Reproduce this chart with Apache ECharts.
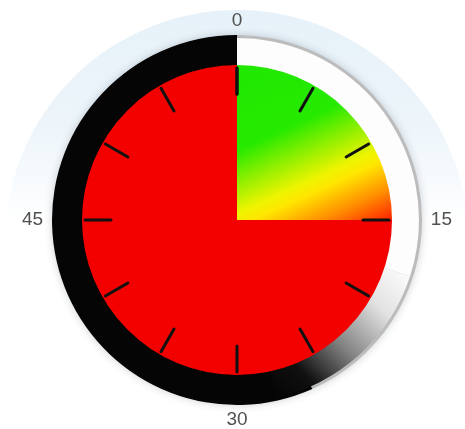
<!DOCTYPE html>
<html>
<head>
<meta charset="utf-8">
<style>
  html, body { margin: 0; padding: 0; background: #ffffff; }
  #chart { width: 465px; height: 429px; }
</style>
<script src="https://cdn.jsdelivr.net/npm/echarts@6/dist/echarts.min.js"></script>
</head>
<body>
<div id="chart"></div>
<script>
// Dial scale: a 60-minute clock face
const dialMin = 0;
const dialMax = 60;
const tickStep = 5;
const tickLabels = [0, 15, 30, 45];

// Face sectors, in minutes clockwise from the top
const faceNames = ['elapsed', 'remaining'];
const faceValues = [15, 45];

// Bezel sectors, in minutes clockwise from the top
const bezelNames = ['lit', 'fade', 'dark'];
const bezelValues = [18, 10, 32];

// Rim behind the bezel: grey edge, then black
const rimValues = [26, 34];

const cx = 237, cy = 220;

const chart = echarts.init(document.getElementById('chart'), null, { renderer: 'canvas' });

const elapsedFill = {
  type: 'linear', global: true,
  x: 178.6, y: 91.5, x2: 263.5, y2: 278.4,
  colorStops: [
    { offset: 0, color: '#20e800' },
    { offset: 0.38, color: '#26ea00' },
    { offset: 0.52, color: '#8cef00' },
    { offset: 0.66, color: '#eef400' },
    { offset: 0.72, color: '#ffe600' },
    { offset: 0.86, color: '#ff8c00' },
    { offset: 1, color: '#ff2000' }
  ]
};

const fadeFill = {
  type: 'linear', global: true,
  x: 405, y: 268, x2: 275, y2: 396,
  colorStops: [
    { offset: 0, color: '#fdfdfd' },
    { offset: 0.25, color: '#e2e2e2' },
    { offset: 0.55, color: '#808080' },
    { offset: 0.8, color: '#101010' },
    { offset: 1, color: '#050505' }
  ]
};

const faceColors = [elapsedFill, '#f30000'];
const bezelColors = ['#fdfdfd', fadeFill, '#050505'];
const rimColors = ['#bcbcbc', '#050505'];

function pieBase(z, radius) {
  return {
    type: 'pie',
    center: [cx, cy],
    radius: radius,
    startAngle: 90,
    clockwise: true,
    silent: true,
    z: z,
    label: { show: false },
    labelLine: { show: false },
    emphasis: { disabled: true },
    avoidLabelOverlap: false,
    animation: false
  };
}

const labelFont = '"Liberation Sans", Arial, sans-serif';

// A dial layer: same scale, optional ticks, labels for the chosen minutes
function dialLayer(z, showTicks, labelled, labelDistance) {
  return {
    type: 'gauge',
    z: z,
    silent: true,
    center: [cx, cy],
    radius: 152,
    startAngle: 90,
    endAngle: -270,
    clockwise: true,
    min: dialMin,
    max: dialMax,
    splitNumber: (dialMax - dialMin) / tickStep,
    axisLine: { show: false, lineStyle: { width: 0 } },
    axisTick: { show: false },
    splitLine: {
      show: showTicks,
      length: 26,
      distance: 0,
      lineStyle: { color: '#111111', width: 3, cap: 'round' }
    },
    axisLabel: {
      show: true,
      distance: labelDistance,
      color: '#505050',
      fontSize: 19,
      fontFamily: labelFont,
      formatter: function (v) {
        return labelled.indexOf(v) >= 0 ? String(v) : '';
      }
    },
    pointer: { show: false },
    anchor: { show: false },
    title: { show: false },
    detail: { show: false },
    data: [{ value: faceValues[0] }]
  };
}

const option = {
  backgroundColor: '#ffffff',
  animation: false,
  graphic: [{
    type: 'circle',
    z: -10,
    silent: true,
    shape: { cx: cx, cy: 242, r: 232 },
    style: {
      fill: new echarts.graphic.LinearGradient(0, 0, 0, 1, [
        { offset: 0, color: '#e6f1f9' },
        { offset: 0.25, color: '#edf5fa' },
        { offset: 0.46, color: '#ffffff' },
        { offset: 1, color: '#ffffff' }
      ])
    }
  }],
  series: [
    Object.assign(pieBase(1, [150, 185]), {
      data: rimValues.map((v, i) => ({
        value: v,
        itemStyle: {
          color: rimColors[i],
          shadowBlur: 8,
          shadowColor: 'rgba(60,70,90,0.25)'
        }
      }))
    }),
    Object.assign(pieBase(2, [153, 182]), {
      data: bezelValues.map((v, i) => ({
        name: bezelNames[i],
        value: v,
        itemStyle: { color: bezelColors[i] }
      }))
    }),
    Object.assign(pieBase(3, [0, 155]), {
      data: faceValues.map((v, i) => ({
        name: faceNames[i],
        value: v,
        itemStyle: { color: faceColors[i] }
      }))
    }),
    // ticks plus the top and bottom labels
    dialLayer(4, true, [tickLabels[0], tickLabels[2]], -83),
    // side labels sit a little further out
    dialLayer(4, false, [tickLabels[1], tickLabels[3]], -89)
  ]
};

chart.setOption(option);
</script>
</body>
</html>
